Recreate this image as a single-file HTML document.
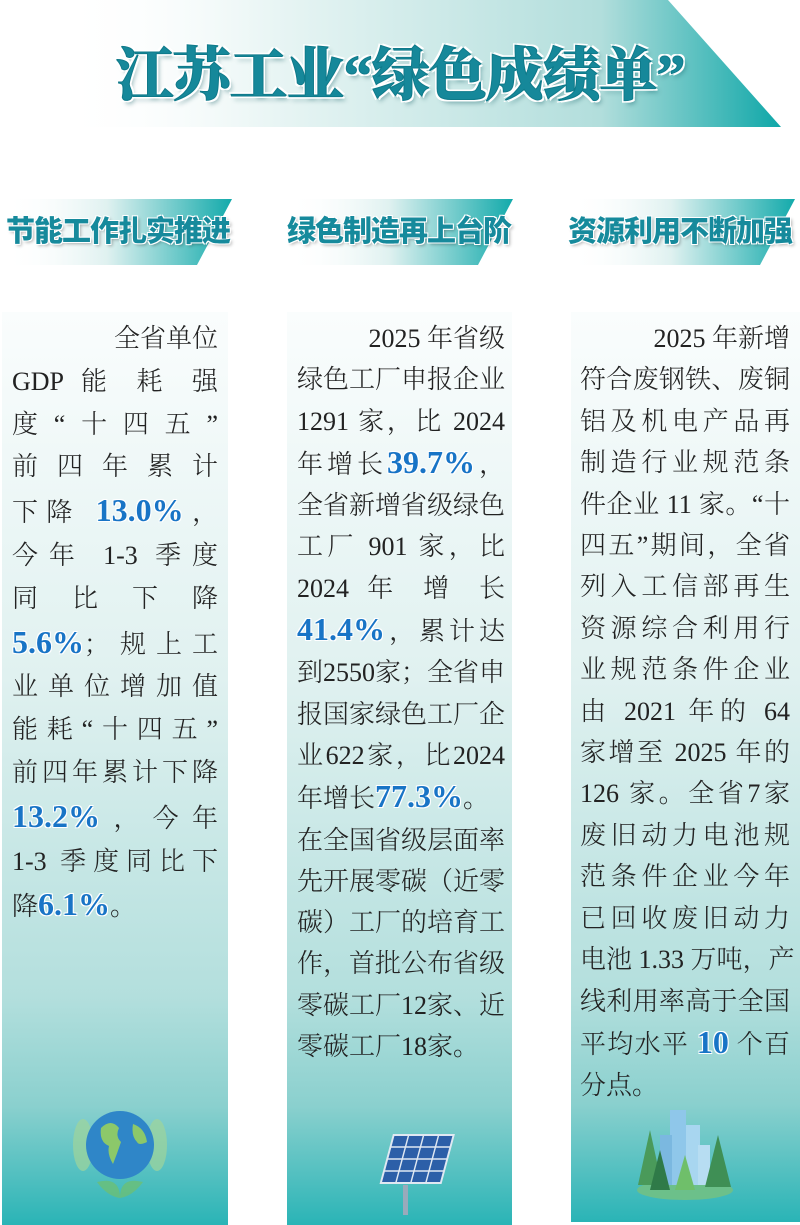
<!DOCTYPE html>
<html><head><meta charset="utf-8">
<style>
*{margin:0;padding:0;box-sizing:border-box}
body{width:800px;height:1225px;background:#fff;position:relative;overflow:hidden;font-family:"Liberation Serif","Noto Serif CJK SC",serif;}
.title{position:absolute;left:0;top:0;width:800px;height:128px;}
.ttext{position:absolute;left:0;width:800px;top:28px;text-align:center;font-family:"Liberation Serif","Noto Serif CJK SC",serif;font-weight:900;font-size:58px;color:#16889a;letter-spacing:-1px;-webkit-text-stroke:1px #0f7a8a;text-shadow:2px 2px 0 #fff,-2px -2px 0 #fff,2px -2px 0 #fff,-2px 2px 0 #fff,3px 4px 4px rgba(0,80,90,.35);}
.stext{position:absolute;top:208px;font-family:"Liberation Sans","Noto Sans CJK SC",sans-serif;font-weight:900;font-size:29px;color:#168a9c;letter-spacing:-1px;text-shadow:1px 1px 0 #fff,-1px -1px 0 #fff,1px -1px 0 #fff,-1px 1px 0 #fff,2px 2px 3px rgba(0,0,0,.3);white-space:nowrap}
.box{position:absolute;top:312px;height:913px;background:linear-gradient(to bottom,#fafdfd 0%,#e0f1f0 40%,#b3dfdd 75%,#8ad0ce 87%,#2ab4b6 100%);}
.col{position:absolute;top:318px;font-size:26px;color:#222;font-weight:300}
.col div{text-align:justify;text-align-last:justify;white-space:nowrap}
.col div.l{text-align:left;text-align-last:left}
.col div.r{text-align:right;text-align-last:right}
b{font-family:"Liberation Serif",serif;font-weight:bold;color:#1874c6;font-size:32px;text-shadow:1px 1px 0 #fff,-1px -1px 0 #fff,1px -1px 0 #fff,-1px 1px 0 #fff}
</style></head><body>
<svg class="title" width="800" height="128">
<defs><linearGradient id="tg" x1="0" x2="1" y1="0" y2="0">
<stop offset="0" stop-color="#fff" stop-opacity="0"/><stop offset="0.3" stop-color="#e8f5f4"/><stop offset="0.75" stop-color="#b2dedc"/><stop offset="1" stop-color="#0fa7a8"/></linearGradient>
<linearGradient id="sg" x1="0" x2="1" y1="0" y2="0">
<stop offset="0" stop-color="#fff" stop-opacity="0"/><stop offset="0.45" stop-color="#dff1f0"/><stop offset="1" stop-color="#13aaab"/></linearGradient></defs>
<polygon points="60,0 668,0 781,127 60,127" fill="url(#tg)"/>
</svg>
<div class="ttext">江苏工业“绿色成绩单”</div>
<svg style="position:absolute;left:0;top:199px" width="800" height="66">
<polygon points="5,0 232,0 197,66 5,66" fill="url(#sg)"/>
<polygon points="288,0 513,0 478,66 288,66" fill="url(#sg)"/>
<polygon points="570,0 795,0 760,66 570,66" fill="url(#sg)"/>
</svg>
<div class="stext" style="left:6px">节能工作扎实推进</div>
<div class="stext" style="left:287px">绿色制造再上台阶</div>
<div class="stext" style="left:568px">资源利用不断加强</div>

<div class="box" style="left:2px;width:226px"></div>
<div class="box" style="left:287px;width:225px"></div>
<div class="box" style="left:571px;width:229px;height:910px"></div>

<div class="col" style="left:12px;width:206px;line-height:42.8px">
<div class="r">全省单位</div>
<div>GDP 能 耗 强</div>
<div>度“十四五”</div>
<div>前四年累计</div>
<div>下降 <b>13.0%</b>，</div>
<div>今年 1-3 季度</div>
<div>同比下降</div>
<div><b>5.6%</b>；规上工</div>
<div>业单位增加值</div>
<div>能耗“十四五”</div>
<div>前四年累计下降</div>
<div><b>13.2%</b>，今年</div>
<div>1-3 季度同比下</div>
<div class="l">降<b>6.1%</b>。</div>
</div>

<div class="col" style="left:297px;width:208px;line-height:41.3px">
<div class="r">2025 年省级</div>
<div>绿色工厂申报企业</div>
<div>1291 家，比 2024</div>
<div>年增长<b>39.7%</b>，</div>
<div>全省新增省级绿色</div>
<div>工厂 901 家，比</div>
<div>2024 年 增 长</div>
<div><b>41.4%</b>，累计达</div>
<div>到2550家；全省申</div>
<div>报国家绿色工厂企</div>
<div>业622家，比2024</div>
<div class="l">年增长<b>77.3%</b>。</div>
<div>在全国省级层面率</div>
<div>先开展零碳（近零</div>
<div>碳）工厂的培育工</div>
<div>作，首批公布省级</div>
<div>零碳工厂12家、近</div>
<div class="l">零碳工厂18家。</div>
</div>

<div class="col" style="left:580px;width:210px;line-height:41.4px">
<div class="r">2025 年新增</div>
<div>符合废钢铁、废铜</div>
<div>铝及机电产品再</div>
<div>制造行业规范条</div>
<div>件企业 11 家。“十</div>
<div>四五”期间，全省</div>
<div>列入工信部再生</div>
<div>资源综合利用行</div>
<div>业规范条件企业</div>
<div>由 2021 年的 64</div>
<div>家增至 2025 年的</div>
<div>126 家。全省7家</div>
<div>废旧动力电池规</div>
<div>范条件企业今年</div>
<div>已回收废旧动力</div>
<div>电池 1.33 万吨，产</div>
<div>线利用率高于全国</div>
<div>平均水平 <b>10</b> 个百</div>
<div class="l">分点。</div>
</div>

<!-- globe -->
<svg style="position:absolute;left:65px;top:1100px" width="110" height="100">
<ellipse cx="18" cy="45" rx="10" ry="26" fill="#9fd49a" opacity=".7"/>
<ellipse cx="92" cy="45" rx="10" ry="26" fill="#9fd49a" opacity=".7"/>
<circle cx="55" cy="45" r="34" fill="#2f86c8"/>
<path d="M36 28 q10-10 18 0 q-4 8 2 14 q-4 12-8 22 q-6-10-4-18 q-10-4-8-18z" fill="#8cc86a"/>
<path d="M68 24 q12 4 14 18 q-8 4-10 0 q-6-6-4-18z" fill="#8cc86a"/>
<path d="M32 82 q23-6 23 16 q0-22 23-16 q-10 14-23 16 q-13-2-23-16z" fill="#6cbf75" opacity=".8"/>
</svg>
<!-- solar -->
<svg style="position:absolute;left:355px;top:1130px" width="100" height="90">
<g transform="skewX(-15) translate(25,0)">
<rect x="15" y="5" width="60" height="48" fill="#2c5fa8" stroke="#dfe8f2" stroke-width="2"/>
<path d="M30 5v48M45 5v48M60 5v48M15 17h60M15 29h60M15 41h60" stroke="#dfe8f2" stroke-width="1.5"/>
</g>
<rect x="48" y="55" width="5" height="30" fill="#9ab"/>
</svg>
<!-- city -->
<svg style="position:absolute;left:620px;top:1095px" width="130" height="110">
<ellipse cx="65" cy="95" rx="48" ry="10" fill="#6cc08a"/>
<rect x="50" y="15" width="16" height="75" fill="#8fc7ea"/>
<rect x="66" y="30" width="14" height="60" fill="#a8d6f0"/>
<rect x="40" y="40" width="12" height="50" fill="#7bb8e0"/>
<rect x="78" y="50" width="12" height="40" fill="#b7ddf2"/>
<polygon points="18,90 30,35 42,90" fill="#4a9a5a"/>
<polygon points="85,92 98,40 111,92" fill="#3f8f55"/>
<polygon points="55,95 65,60 75,95" fill="#6fbf6a"/>
<polygon points="30,95 40,55 50,95" fill="#2f7a48"/>
</svg>
</body></html>
